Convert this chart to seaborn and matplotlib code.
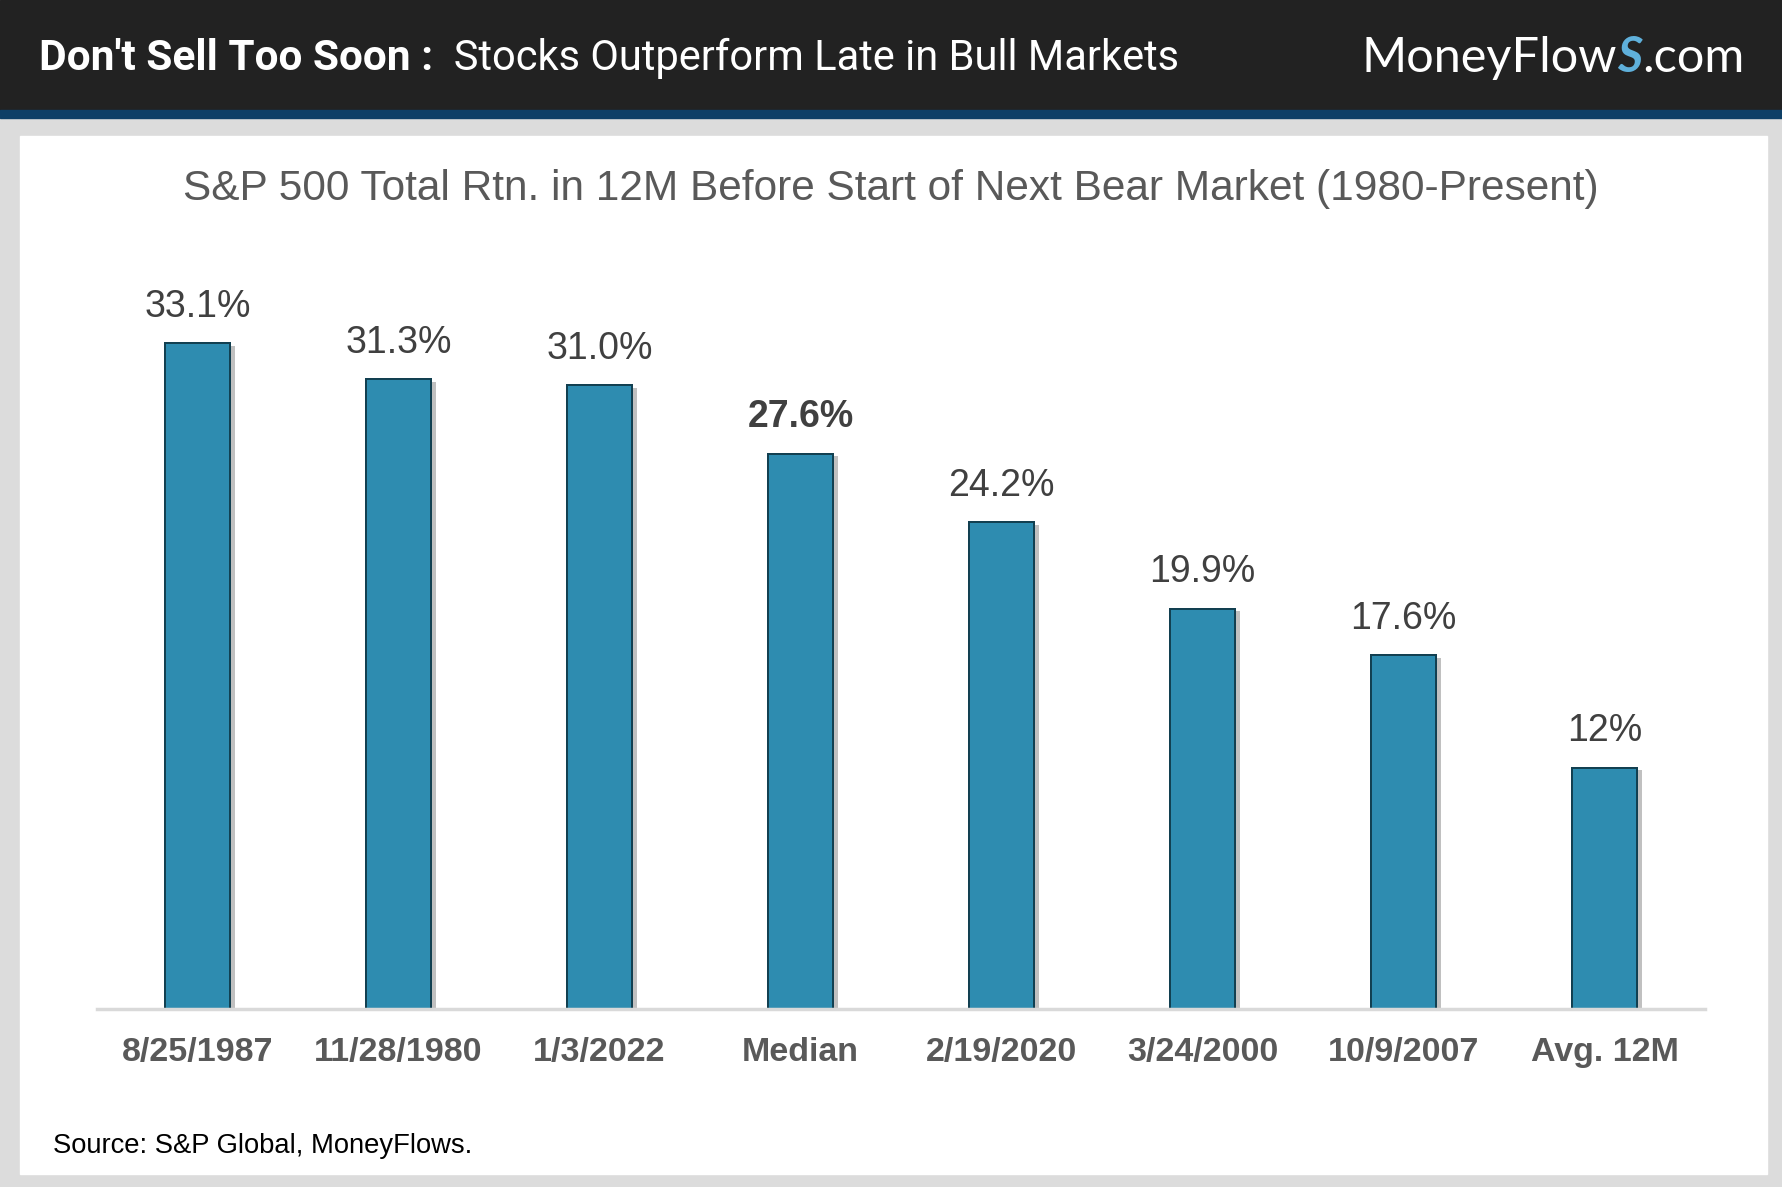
import numpy as np
import pandas as pd
import matplotlib.pyplot as plt
import matplotlib.patheffects as pe
from matplotlib.patches import Rectangle
import seaborn as sns

# data
dates = ['8/25/1987', '11/28/1980', '1/3/2022', 'Median',
         '2/19/2020', '3/24/2000', '10/9/2007', 'Avg. 12M']
returns = [33.1, 31.3, 31.0, 27.6, 24.2, 19.9, 17.6, 12.0]
value_labels = ['33.1%', '31.3%', '31.0%', '27.6%', '24.2%', '19.9%', '17.6%', '12%']

df = pd.DataFrame({'date': dates, 'ret': returns})

sns.set_theme(style='white')
plt.rcParams['font.family'] = ['Liberation Sans', 'DejaVu Sans']

fig = plt.figure(figsize=(17.82, 11.87), dpi=100)
fig.patch.set_facecolor('#dcdcdc')

W, H = 1782, 1187
# header band, blue stripe, white panel
fig.add_artist(Rectangle((0, 1 - 110 / H), 1, 110 / H, transform=fig.transFigure,
                         color='#222222', zorder=0))
fig.add_artist(Rectangle((0, 1 - 118 / H), 1, 8 / H, transform=fig.transFigure,
                         color='#0e3f66', zorder=0))
fig.add_artist(Rectangle((20 / W, 1 - 1174 / H), 1747 / W, 1038 / H,
                         transform=fig.transFigure, color='white', zorder=0))

ax = fig.add_axes([97 / W, 1 - 1009 / H, 1608 / W, 805 / H])
ax.set_facecolor('none')

sns.barplot(data=df, x='date', y='ret', color='#2e8cb0', saturation=1,
            width=0.32, ax=ax, edgecolor='#123f50', linewidth=1.4)

for bar in ax.patches:
    bar.set_path_effects([pe.withSimplePatchShadow(offset=(4, -2), shadow_rgbFace='#303030',
                                                   alpha=0.3),
                          pe.Normal()])

texts = ax.bar_label(ax.containers[0], labels=value_labels, padding=13,
                     fontsize=27, color='#404040')
texts[3].set_fontweight('bold')

ax.set_xlim(-0.5, 7.5)
ax.set_ylim(0, 40)
ax.set_xlabel('')
ax.set_ylabel('')
ax.set_yticks([])
for s in ['top', 'right', 'left']:
    ax.spines[s].set_visible(False)
ax.spines['bottom'].set_color('#d9d9d9')
ax.spines['bottom'].set_linewidth(2.5)
ax.tick_params(axis='x', length=0, pad=20, labelsize=24.5, labelcolor='#595959')
for lbl in ax.get_xticklabels():
    lbl.set_fontweight('bold')

fig.text(0.5, 1 - 189 / H,
         'S&P 500 Total Rtn. in 12M Before Start of Next Bear Market (1980-Present)',
         ha='center', va='center', fontsize=30.5, color='#595959')

fig.text(53 / W, 1 - 1146 / H, 'Source: S&P Global, MoneyFlows.',
         ha='left', va='center', fontsize=19.7, color='black')

# header title
t1 = fig.text(39 / W, 1 - 58 / H, "Don't Sell Too Soon :", ha='left', va='center',
              fontsize=30.5, fontweight='bold', color='white', family='Roboto')
ax.annotate('  Stocks Outperform Late in Bull Markets', xy=(1, 0.5), xycoords=t1,
            ha='left', va='center', fontsize=30, color='white', family='Roboto',
            annotation_clip=False)

# logo
l1 = fig.text(1362 / W, 1 - 58 / H, 'MoneyFlow', ha='left', va='center',
              fontsize=35, color='white', family='Lato')
l2 = ax.annotate('S', xy=(1, 0.5), xycoords=l1, ha='left', va='center',
                 fontsize=35, color='#5fb0db', family='Lato', fontweight='bold',
                 fontstyle='italic', annotation_clip=False)
ax.annotate('.com', xy=(1, 0.5), xycoords=l2, ha='left', va='center',
            fontsize=35, color='white', family='Lato',
            annotation_clip=False)

fig.savefig('out.png', dpi=100, facecolor=fig.get_facecolor())
